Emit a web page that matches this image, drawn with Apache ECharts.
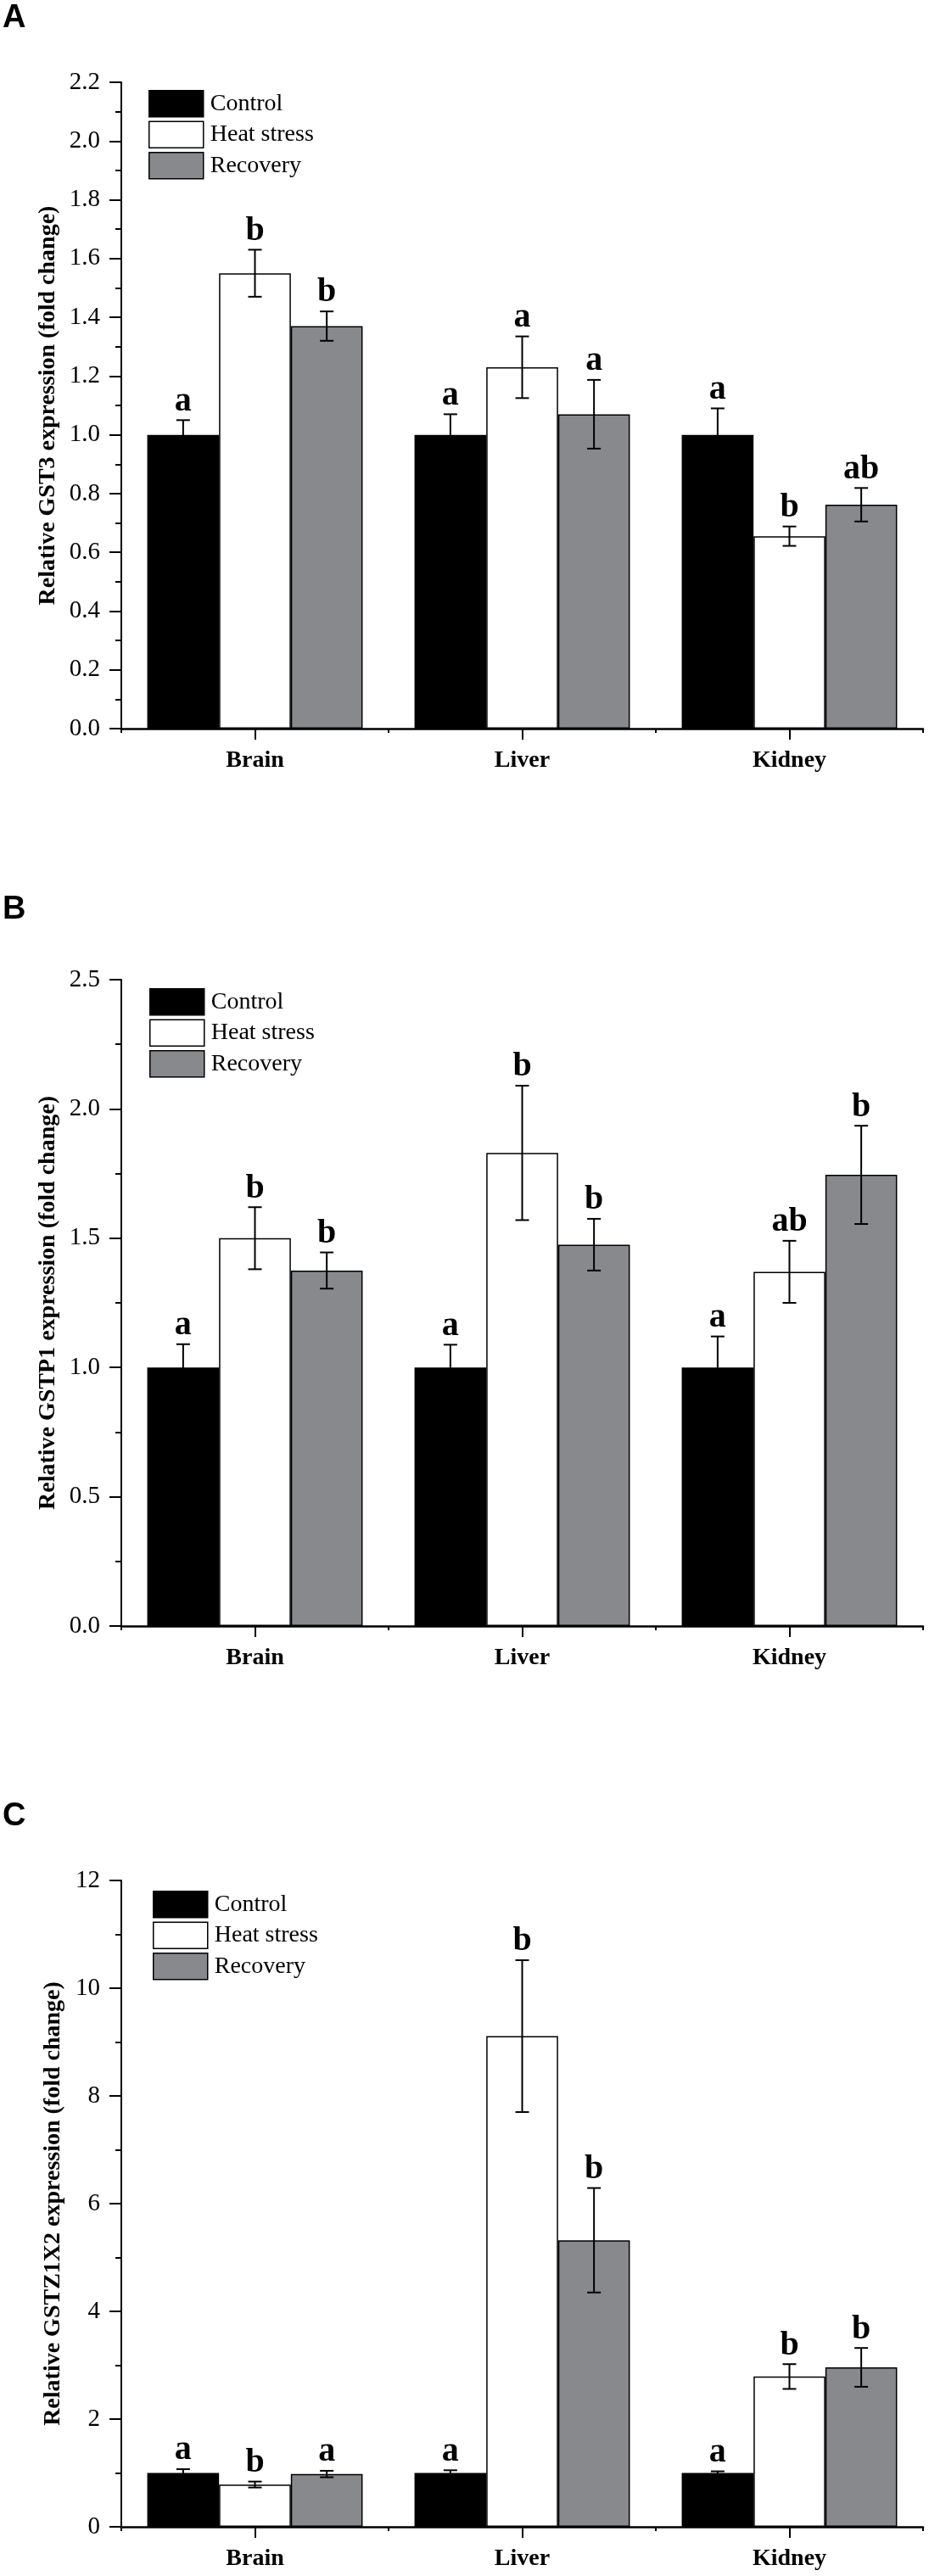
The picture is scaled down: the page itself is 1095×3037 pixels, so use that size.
<!DOCTYPE html>
<html>
<head>
<meta charset="utf-8">
<script src="https://cdn.jsdelivr.net/npm/echarts@6/dist/echarts.min.js"></script>
<style>
  html, body { margin: 0; padding: 0; background: #fff; }
  #chart { width: 1095px; height: 3037px; }
</style>
</head>
<body>
<div id="chart"></div>
<script>
/* data */
var categories = ["Brain", "Liver", "Kidney"];
var groupNames = ["Control", "Heat stress", "Recovery"];

// A - GST3
var gst3Control = [1.0, 1.0, 1.0];
var gst3Heat = [1.55, 1.23, 0.655];
var gst3Recovery = [1.37, 1.07, 0.762];
var gst3ControlErr = [0.05, 0.07, 0.09];
var gst3HeatErr = [0.08, 0.105, 0.033];
var gst3RecoveryErr = [0.05, 0.117, 0.057];
var gst3ControlSig = ["a", "a", "a"];
var gst3HeatSig = ["b", "a", "b"];
var gst3RecoverySig = ["b", "a", "ab"];

// B - GSTP1
var gstp1Control = [1.0, 1.0, 1.0];
var gstp1Heat = [1.5, 1.83, 1.37];
var gstp1Recovery = [1.375, 1.475, 1.745];
var gstp1ControlErr = [0.09, 0.088, 0.12];
var gstp1HeatErr = [0.12, 0.26, 0.12];
var gstp1RecoveryErr = [0.07, 0.1, 0.19];
var gstp1ControlSig = ["a", "a", "a"];
var gstp1HeatSig = ["b", "b", "ab"];
var gstp1RecoverySig = ["b", "b", "b"];

// C - GSTZ1X2
var gstzControl = [1.0, 1.0, 1.0];
var gstzHeat = [0.785, 9.11, 2.79];
var gstzRecovery = [0.98, 5.32, 2.96];
var gstzControlErr = [0.07, 0.05, 0.03];
var gstzHeatErr = [0.055, 1.41, 0.23];
var gstzRecoveryErr = [0.06, 0.97, 0.36];
var gstzControlSig = ["a", "a", "a"];
var gstzHeatSig = ["b", "b", "b"];
var gstzRecoverySig = ["a", "b", "b"];

// y axes
var yMaxA = 2.2, yStepA = 0.2;
var yMaxB = 2.5, yStepB = 0.5;
var yMaxC = 12, yStepC = 2;

var SERIF = '"Liberation Serif", "Times New Roman", serif';
var barColors = ["#000000", "#ffffff", "#88898d"];
var catGap = 0.194;

var panels = [
  { label: "A", labelTop: 3, top: 97, max: yMaxA, step: yStepA, digits: 1, nameGap: 72,
    name: "Relative GST3 expression (fold change)", legendLeft: 175, legendTop: 106,
    vals: [gst3Control, gst3Heat, gst3Recovery],
    errs: [gst3ControlErr, gst3HeatErr, gst3RecoveryErr],
    sigs: [gst3ControlSig, gst3HeatSig, gst3RecoverySig] },
  { label: "B", labelTop: 1054, top: 1155, max: yMaxB, step: yStepB, digits: 1, nameGap: 72,
    name: "Relative GSTP1 expression (fold change)", legendLeft: 176, legendTop: 1165,
    vals: [gstp1Control, gstp1Heat, gstp1Recovery],
    errs: [gstp1ControlErr, gstp1HeatErr, gstp1RecoveryErr],
    sigs: [gstp1ControlSig, gstp1HeatSig, gstp1RecoverySig] },
  { label: "C", labelTop: 2123, top: 2217, max: yMaxC, step: yStepC, digits: 0, nameGap: 66,
    name: "Relative GSTZ1X2 expression (fold change)", legendLeft: 180, legendTop: 2229,
    vals: [gstzControl, gstzHeat, gstzRecovery],
    errs: [gstzControlErr, gstzHeatErr, gstzRecoveryErr],
    sigs: [gstzControlSig, gstzHeatSig, gstzRecoverySig] }
];

function errorRender(slot, sig) {
  return function (params, api) {
    var k = api.value(0), v = api.value(1), e = api.value(2);
    var c = api.coord([k, v]);
    var band = api.size([1, 0])[0];
    var bw = band * (1 - catGap) / 3;
    var x = c[0] + (slot - 1) * bw;
    var yTop = api.coord([k, v + e])[1];
    var yBot = api.coord([k, v - e])[1];
    var ls = { stroke: "#000", lineWidth: 2 };
    return {
      type: "group",
      children: [
        { type: "line", shape: { x1: x, y1: yTop, x2: x, y2: yBot }, style: ls },
        { type: "line", shape: { x1: x - 8, y1: yTop, x2: x + 8, y2: yTop }, style: ls },
        { type: "line", shape: { x1: x - 8, y1: yBot, x2: x + 8, y2: yBot }, style: ls },
        { type: "text", x: x, y: yTop - 2,
          style: { text: sig[params.dataIndex], align: "center", verticalAlign: "bottom",
                   fontFamily: SERIF, fontWeight: "bold", fontSize: 40, fill: "#000" } }
      ]
    };
  };
}

var titles = [], grids = [], xAxes = [], yAxes = [], legends = [], series = [];

panels.forEach(function (p, i) {
  titles.push({
    text: p.label, left: 3, top: p.labelTop, padding: 0,
    textStyle: { fontFamily: '"Liberation Sans", Arial, sans-serif', fontWeight: "bold", fontSize: 38, color: "#000" }
  });
  grids.push({ left: 143, right: 7, top: p.top, height: 762, containLabel: false, outerBoundsMode: "none" });
  // main axis, short ticks at the group boundaries
  xAxes.push({
    type: "category", gridIndex: i, position: "bottom", data: categories,
    axisLine: { lineStyle: { color: "#000", width: 2.5 } },
    axisTick: { show: true, alignWithLabel: false, length: 5, lineStyle: { color: "#000", width: 2 } },
    axisLabel: { margin: 24, fontFamily: SERIF, fontWeight: "bold", fontSize: 28, color: "#000" },
    splitLine: { show: false }
  });
  // longer ticks under each group
  xAxes.push({
    type: "category", gridIndex: i, position: "bottom", data: categories,
    axisLine: { show: false },
    axisTick: { show: true, alignWithLabel: true, length: 13, lineStyle: { color: "#000", width: 2 } },
    axisLabel: { show: false },
    splitLine: { show: false }
  });
  yAxes.push({
    type: "value", gridIndex: i, min: 0, max: p.max, interval: p.step,
    name: p.name, nameLocation: "middle", nameGap: p.nameGap,
    nameTextStyle: { fontFamily: SERIF, fontWeight: "bold", fontSize: 28, color: "#000" },
    axisLine: { show: true, lineStyle: { color: "#000", width: 2 } },
    axisTick: { show: true, length: 14, lineStyle: { color: "#000", width: 2 } },
    minorTick: { show: true, splitNumber: 2, length: 7, lineStyle: { color: "#000", width: 2 } },
    splitLine: { show: false },
    minorSplitLine: { show: false },
    axisLabel: {
      margin: 25, fontFamily: SERIF, fontSize: 29, color: "#000",
      formatter: (function (d) { return function (v) { return v.toFixed(d); }; })(p.digits)
    }
  });
  legends.push({
    left: p.legendLeft, top: p.legendTop, orient: "vertical", padding: 0,
    itemWidth: 64, itemHeight: 31, itemGap: 4, icon: "rect", selectedMode: false,
    data: groupNames,
    itemStyle: { borderColor: "#000", borderWidth: 1.5 },
    textStyle: { fontFamily: SERIF, fontSize: 28, color: "#000", padding: [0, 0, 0, 3] }
  });
  for (var s = 0; s < 3; s++) {
    series.push({
      type: "bar", name: groupNames[s], xAxisIndex: 2 * i, yAxisIndex: i,
      data: p.vals[s], barGap: "0%", barCategoryGap: (catGap * 100) + "%",
      itemStyle: { color: barColors[s], borderColor: "#000", borderWidth: 1.5 },
      silent: true
    });
  }
  for (var s2 = 0; s2 < 3; s2++) {
    series.push({
      type: "custom", name: groupNames[s2] + " error", xAxisIndex: 2 * i, yAxisIndex: i,
      data: p.vals[s2].map(function (v, k) { return [k, v, p.errs[s2][k]]; }),
      renderItem: errorRender(s2, p.sigs[s2]),
      z: 10, clip: false, silent: true
    });
  }
});

var myChart = echarts.init(document.getElementById("chart"), null, { renderer: "canvas" });
myChart.setOption({
  backgroundColor: "#fff",
  animation: false,
  title: titles,
  grid: grids,
  xAxis: xAxes,
  yAxis: yAxes,
  legend: legends,
  tooltip: { show: false },
  series: series
});
</script>
</body>
</html>
